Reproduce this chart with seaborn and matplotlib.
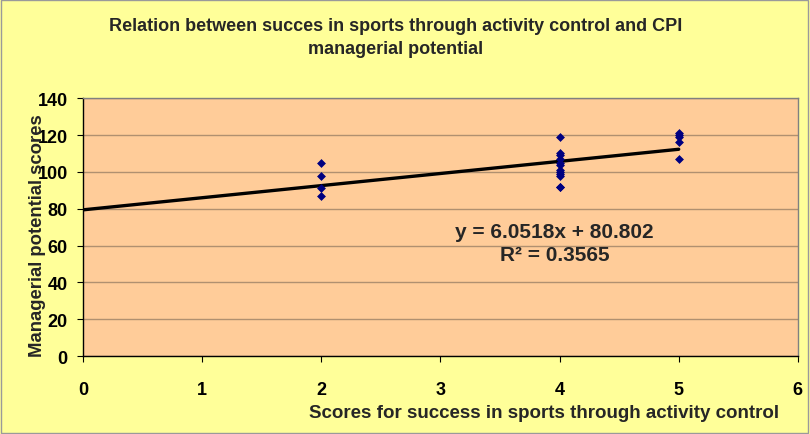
import numpy as np
import pandas as pd
import matplotlib
matplotlib.use("Agg")
import matplotlib.pyplot as plt
import seaborn as sns
from matplotlib.patches import Rectangle

# --- data ---
x_scores = [2, 2, 2, 2,
            4, 4, 4, 4, 4, 4, 4, 4, 4, 4, 4, 4,
            5, 5, 5, 5, 5]
y_scores = [105, 98, 91, 87,
            119, 110, 109, 107, 105, 104, 101, 100, 99, 98, 92, 92,
            121, 120, 119, 116, 107]
eq_text = "y = 6.0518x + 80.802"
r2_text = "R\u00b2 = 0.3565"

df = pd.DataFrame({"x": x_scores, "y": y_scores})

sns.set_style("white")
plt.rcParams["font.family"] = ["Liberation Sans", "DejaVu Sans"]
plt.rcParams["font.weight"] = "bold"

fig = plt.figure(figsize=(8.1, 4.35), dpi=100)
fig.patch.set_facecolor("#FFFF99")
fig.patches.append(Rectangle((0.001, 0.002), 0.997, 0.995, transform=fig.transFigure,
                             fill=False, edgecolor="#9a9a9a", linewidth=1))
ax = fig.add_axes([0.1025, 0.179, 0.8825, 0.593])
ax.set_facecolor("#FFCC99")

# linear trend line from 0 to the largest score
slope, intercept = np.polyfit(df["x"], df["y"], 1)
line = pd.DataFrame({"x": [0, df["x"].max()]})
line["y"] = intercept + slope * line["x"]
sns.lineplot(data=line, x="x", y="y", ax=ax, color="black", linewidth=2.4, zorder=3)

sns.scatterplot(data=df, x="x", y="y", ax=ax, marker="D", s=16, color="#000080",
                edgecolor="#000080", linewidth=0.5, zorder=4)

ax.set_xlim(0, 6)
ax.set_ylim(0, 140)
ax.set_xticks(range(0, 7))
ax.set_yticks(range(0, 141, 20))
ax.yaxis.grid(True, color="#b09070", linewidth=1)
ax.set_axisbelow(True)

for side in ["top", "right"]:
    ax.spines[side].set_color("#808080")
    ax.spines[side].set_linewidth(1)
for side in ["left", "bottom"]:
    ax.spines[side].set_color("black")
    ax.spines[side].set_linewidth(1)

ax.tick_params(axis="both", which="both", direction="out", length=4, width=0.8,
               colors="black", labelsize=13)
ax.tick_params(axis="x", pad=14, bottom=True)
ax.tick_params(axis="y", pad=7, left=True)
for lab in ax.get_xticklabels() + ax.get_yticklabels():
    lab.set_fontweight("bold")

ax.set_xlabel("Scores for success in sports through activity control",
              fontsize=13.5, fontweight="bold")
ax.xaxis.set_label_coords(0.645, -0.187)
ax.set_ylabel("Managerial potential scores", fontsize=13.3, fontweight="bold")
ax.yaxis.set_label_coords(-0.052, 0.47)

fig.text(0.488, 0.958, "Relation between succes in sports through activity control and CPI\nmanagerial potential",
         ha="center", va="top", fontsize=13, fontweight="bold", linespacing=1.45)

ax.text(0.66, 0.483, eq_text, transform=ax.transAxes, ha="center", va="center",
        fontsize=15, fontweight="bold")
ax.text(0.66, 0.393, r2_text, transform=ax.transAxes, ha="center", va="center",
        fontsize=15, fontweight="bold")

fig.savefig("out.png", dpi=100, facecolor=fig.get_facecolor())
